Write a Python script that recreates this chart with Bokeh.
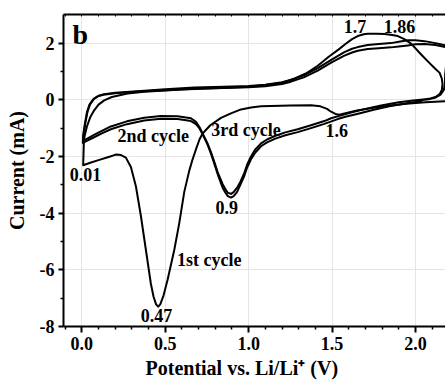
from bokeh.plotting import figure
from bokeh.models import FixedTicker, LinearAxis, Range1d, Title, PrintfTickFormatter
from bokeh.core.properties import value
from bokeh.embed import file_html
from bokeh.resources import INLINE

FONT = "Liberation Serif"

# ---- data (potential V, current mA) ----
cycle1_v = [2.45, 2.30, 2.18, 2.06, 1.944, 1.85, 1.75, 1.65, 1.58, 1.544, 1.52, 1.494, 1.47, 1.43,
            1.374, 1.25, 1.134, 1.074, 1.014, 0.954, 0.894, 0.834, 0.77, 0.724, 0.705, 0.684, 0.664,
            0.644, 0.614, 0.584, 0.554, 0.514, 0.49, 0.47, 0.458, 0.445, 0.43, 0.414, 0.384, 0.354,
            0.324, 0.294, 0.264, 0.235, 0.205, 0.19, 0.17, 0.10, 0.05, 0.008, 0.010, 0.012,
            0.016, 0.03, 0.05, 0.074, 0.10, 0.134, 0.18, 0.274, 0.374, 0.474, 0.6, 0.75, 0.9, 1.0,
            1.1, 1.2, 1.28, 1.35, 1.414, 1.48, 1.54, 1.58, 1.62, 1.654, 1.69, 1.714, 1.77, 1.814,
            1.86, 1.894, 1.93, 1.974, 2.034, 2.08, 2.114, 2.145, 2.158, 2.162, 2.158, 2.145, 2.12,
            2.09, 2.06]
cycle1_i = [-0.02, -0.03, -0.05, -0.09, -0.14, -0.20, -0.28, -0.38, -0.47, -0.53, -0.50, -0.42, -0.32,
            -0.23, -0.19, -0.20, -0.22, -0.23, -0.27, -0.34, -0.48, -0.64, -0.90, -1.19, -1.40, -1.75,
            -2.10, -2.50, -3.25, -4.35, -5.30, -6.35, -6.90, -7.22, -7.30, -7.22, -6.95, -6.50, -5.30,
            -4.10, -3.05, -2.37, -2.04, -1.95, -1.93, -1.96, -2.00, -2.13, -2.22, -2.31, -1.90, -1.50,
            -1.30, -0.95, -0.62, -0.37, -0.17, -0.02, 0.10, 0.22, 0.28, 0.32, 0.36, 0.40, 0.43, 0.46,
            0.52, 0.60, 0.76, 0.95, 1.20, 1.52, 1.78, 1.97, 2.14, 2.25, 2.31, 2.33, 2.33, 2.32,
            2.29, 2.25, 2.15, 1.98, 1.60, 1.32, 1.12, 0.95, 0.75, 0.55, 0.35, 0.20, 0.10,
            0.05, 0.02]

cycle2_v = [2.06, 2.0, 1.9, 1.794, 1.7, 1.614, 1.554, 1.494, 1.454, 1.374, 1.294, 1.22, 1.16, 1.11,
            1.074, 1.04, 1.014, 0.99, 0.974, 0.95, 0.934, 0.91, 0.894, 0.875, 0.86, 0.844, 0.814,
            0.79, 0.774, 0.752, 0.724, 0.704, 0.684, 0.654, 0.574, 0.474, 0.374, 0.27, 0.174, 0.126,
            0.07, 0.03, 0.008,
            0.012, 0.02, 0.034, 0.05, 0.074, 0.10, 0.134, 0.2, 0.374, 0.5, 0.674, 0.85, 1.0, 1.1,
            1.2, 1.254, 1.33, 1.414, 1.5, 1.574, 1.62, 1.654, 1.714, 1.78, 1.854, 1.9, 1.954, 2.0,
            2.054, 2.12, 2.18, 2.25, 2.30, 2.32, 2.29, 2.22, 2.185, 2.178, 2.176, 2.17, 2.15, 2.12,
            2.08, 2.04]
cycle2_i = [0.02, -0.02, -0.09, -0.20, -0.32, -0.45, -0.55, -0.65, -0.75, -0.90, -1.04, -1.15, -1.27,
            -1.40, -1.54, -1.75, -2.00, -2.30, -2.58, -2.90, -3.07, -3.26, -3.32, -3.28, -3.15, -2.98,
            -2.55, -2.12, -1.85, -1.52, -1.19, -0.95, -0.78, -0.65, -0.58, -0.57, -0.63, -0.76, -0.94,
            -1.08, -1.25, -1.38, -1.45,
            -1.20, -0.85, -0.42, -0.15, 0.04, 0.14, 0.20, 0.25, 0.32, 0.37, 0.43, 0.46, 0.49, 0.53,
            0.62, 0.70, 0.86, 1.12, 1.43, 1.68, 1.80, 1.86, 1.93, 1.97, 2.00, 2.05, 2.10, 2.10,
            2.07, 2.00, 1.92, 1.80, 1.65, 1.48, 1.43, 1.42, 1.30, 0.90, 0.55, 0.35, 0.18, 0.08,
            0.02, -0.01]

cycle3_v = [2.04, 1.95, 1.85, 1.75, 1.65, 1.58, 1.534, 1.454, 1.374, 1.294, 1.22, 1.16, 1.11, 1.074,
            1.04, 1.014, 0.99, 0.974, 0.95, 0.93, 0.91, 0.894, 0.875, 0.86, 0.844, 0.814, 0.79,
            0.774, 0.752, 0.724, 0.704, 0.684, 0.654, 0.574, 0.474, 0.374, 0.27, 0.174, 0.126, 0.07,
            0.03, 0.006,
            0.008, 0.018, 0.03, 0.045, 0.068, 0.095, 0.13, 0.2, 0.374, 0.5, 0.674, 0.85, 1.0, 1.1,
            1.2, 1.254, 1.33, 1.414, 1.5, 1.574, 1.62, 1.654, 1.714, 1.78, 1.854, 1.9, 1.954, 2.0,
            2.054, 2.12, 2.18, 2.25, 2.30]
cycle3_i = [-0.04, -0.12, -0.22, -0.35, -0.50, -0.60, -0.68, -0.85, -1.00, -1.14, -1.25, -1.37, -1.50,
            -1.64, -1.86, -2.10, -2.40, -2.68, -3.00, -3.26, -3.40, -3.45, -3.40, -3.27, -3.10, -2.62,
            -2.18, -1.90, -1.56, -1.22, -1.00, -0.86, -0.75, -0.68, -0.67, -0.73, -0.86, -1.04, -1.17,
            -1.33, -1.45, -1.52,
            -1.25, -0.85, -0.45, -0.18, 0.02, 0.12, 0.18, 0.23, 0.30, 0.34, 0.39, 0.42, 0.44, 0.48,
            0.56, 0.64, 0.79, 1.03, 1.33, 1.56, 1.67, 1.73, 1.79, 1.82, 1.85, 1.88, 1.92, 1.96,
            1.97, 1.93, 1.86, 1.78, 1.70]

ann_text = ["1.7", "1.86", "2nd cycle", "3rd cycle", "1.6", "0.01", "0.9", "1st cycle", "0.47"]
ann_v = [1.638, 1.904, 0.428, 0.984, 1.528, 0.022, 0.868, 0.764, 0.448]
ann_i = [2.60, 2.60, -1.26, -1.07, -1.09, -2.62, -3.79, -5.67, -7.61]

panel_text = ["b"]
panel_v = [-0.01]
panel_i = [2.31]

x_ticks = [0.0, 0.5, 1.0, 1.5, 2.0]
x_minor = [-0.1, 0.1, 0.2, 0.3, 0.4, 0.6, 0.7, 0.8, 0.9, 1.1, 1.2, 1.3, 1.4, 1.6, 1.7, 1.8, 1.9, 2.1]
y_ticks = [-8, -6, -4, -2, 0, 2]
y_minor = [-7, -5, -3, -1, 1]
x_title = "Potential vs. Li/Li\u207a (V)"
y_title = "Current (mA)"

# ---- figure ----
p = figure(width=445, height=381, x_range=Range1d(-0.11, 2.18), y_range=Range1d(-8, 3.01),
           output_backend="svg", toolbar_location=None,
           x_axis_location=None, y_axis_location=None,
           min_border_left=63, min_border_right=0, min_border_top=14, min_border_bottom=54)
p.outline_line_color = None
p.background_fill_color = "white"
p.border_fill_color = "white"


def style_axis(ax, tick_out):
    ax.axis_line_width = 2
    ax.axis_line_color = "black"
    ax.major_tick_line_width = 2
    ax.minor_tick_line_width = 1.5
    ax.major_tick_in = 0
    ax.minor_tick_in = 0
    ax.major_tick_out = tick_out
    ax.minor_tick_out = 3
    ax.major_label_text_font = FONT
    ax.major_label_text_font_size = "18px"
    ax.major_label_text_font_style = "bold"
    ax.major_label_text_color = "black"


yaxis = LinearAxis(ticker=FixedTicker(ticks=y_ticks, minor_ticks=y_minor),
                   formatter=PrintfTickFormatter(format="%d"))
style_axis(yaxis, 5)
yaxis.major_label_standoff = 4
yaxis.axis_label = y_title
yaxis.axis_label_text_font = FONT
yaxis.axis_label_text_font_size = "20px"
yaxis.axis_label_text_font_style = "bold"
yaxis.axis_label_text_color = "black"
yaxis.axis_label_standoff = 9
p.add_layout(yaxis, "left")

xaxis = LinearAxis(ticker=FixedTicker(ticks=x_ticks, minor_ticks=x_minor),
                   formatter=PrintfTickFormatter(format="%.1f"))
style_axis(xaxis, 6)
xaxis.major_label_standoff = 4
p.add_layout(xaxis, "below")

# top frame line with small inward ticks (no labels)
top = LinearAxis(ticker=FixedTicker(ticks=[], minor_ticks=x_ticks + x_minor))
top.axis_line_width = 2
top.minor_tick_in = 2
top.minor_tick_out = 0
top.major_tick_in = 0
top.major_tick_out = 0
p.add_layout(top, "above")

title = Title(text=x_title, align="left", offset=82, text_font=FONT,
              text_font_size="20px", text_font_style="bold", text_color="black")
if "standoff" in Title.properties():
    title.standoff = 5
p.add_layout(title, "below")

for vx, iy in ((cycle1_v, cycle1_i), (cycle2_v, cycle2_i), (cycle3_v, cycle3_i)):
    p.line(vx, iy, line_color="black", line_width=2, line_join="round")

p.text(x=ann_v, y=ann_i, text=ann_text, text_font=value(FONT), text_font_size="18px",
       text_font_style="bold", text_align="center", text_baseline="middle", text_color="black")
p.text(x=panel_v, y=panel_i, text=panel_text, text_font=value(FONT), text_font_size="28px",
       text_font_style="bold", text_align="center", text_baseline="middle", text_color="black")

open("out.html", "w").write(file_html(p, INLINE))
